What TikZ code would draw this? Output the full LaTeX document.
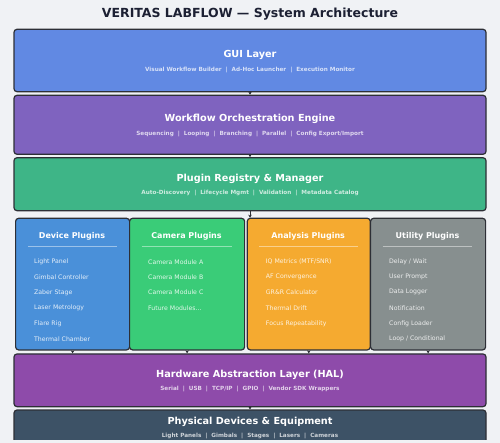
\documentclass[tikz,border=0pt]{standalone}
\usepackage{fontspec}
\setmainfont{DejaVu Sans}
\usetikzlibrary{arrows.meta}
\definecolor{bgcol}{HTML}{F0F2F5}
\definecolor{edgecol}{HTML}{2D2F36}
\definecolor{titlecol}{HTML}{1C2033}
\definecolor{guicol}{HTML}{6189E3}
\definecolor{enginecol}{HTML}{7F63BF}
\definecolor{registrycol}{HTML}{3EB587}
\definecolor{devicecol}{HTML}{4A90D9}
\definecolor{cameracol}{HTML}{3ACC78}
\definecolor{analysiscol}{HTML}{F5AA30}
\definecolor{utilitycol}{HTML}{878F8F}
\definecolor{halcol}{HTML}{8E4BAA}
\definecolor{physcol}{HTML}{3D5266}
\tikzset{
  layer/.style={draw=edgecol, line width=1.2pt, rounded corners=3pt,
               minimum width=472pt, inner sep=0pt},
  plugcol/.style={draw=edgecol, line width=1.2pt, rounded corners=3pt,
                  inner sep=0pt, anchor=north west, minimum height=131.6pt},
  layertitle/.style={text=white, font=\bfseries\fontsize{9.7}{11}\selectfont},
  layersub/.style={text=white, text opacity=0.75, font=\bfseries\fontsize{5.7}{7}\selectfont},
  coltitle/.style={text=white, font=\bfseries\fontsize{8}{9}\selectfont},
  colitem/.style={text=white, text opacity=0.85, font=\fontsize{6.2}{7}\selectfont,
                  anchor=west, inner sep=0pt},
  colrule/.style={draw=white, draw opacity=0.45, line width=0.6pt},
  flow/.style={-{Stealth[length=3pt,width=3.5pt]}, line width=0.9pt, draw=edgecol},
}
\begin{document}
\begin{tikzpicture}[x=1pt, y=-1pt]
    \path[fill=bgcol, use as bounding box] (0,0) rectangle (500,443);
    \node[text=titlecol, font=\bfseries\fontsize{12.5}{14}\selectfont] (title) at (250,14.3)
      {VERITAS LABFLOW — System Architecture};

    % layers
    \node[layer, fill=guicol, minimum height=62.4pt] (gui) at (250,60.5) {};
    \node[layertitle] (guit) at (250,55.3) {GUI Layer};
    \node[layersub] (guis) at (250,69.7)
      {Visual Workflow Builder~~|~~Ad-Hoc Launcher~~|~~Execution Monitor};

    \node[layer, fill=enginecol, minimum height=59pt] (engine) at (250,124.8) {};
    \node[layertitle] (enginet) at (250,119.3) {Workflow Orchestration Engine};
    \node[layersub] (engines) at (250,133.7)
      {Sequencing~~|~~Looping~~|~~Branching~~|~~Parallel~~|~~Config Export/Import};

    \node[layer, fill=registrycol, minimum height=53pt] (registry) at (250,184.2) {};
    \node[layertitle] (registryt) at (250,178.7) {Plugin Registry \& Manager};
    \node[layersub] (registrys) at (250,192.7)
      {Auto-Discovery~~|~~Lifecycle Mgmt~~|~~Validation~~|~~Metadata Catalog};

    % plugin columns
    \node[plugcol, fill=devicecol, minimum width=114pt] (device) at (15,217.7) {};
    \node[plugcol, fill=cameracol, minimum width=115pt] (camera) at (129,217.7) {};
    \node[plugcol, fill=analysiscol, minimum width=123pt] (analysis) at (246.7,217.7) {};
    \node[plugcol, fill=utilitycol, minimum width=115pt] (utility) at (370,217.7) {};

    \node[coltitle] (devicet) at (72,236) {Device Plugins};
    \node[coltitle] (camerat) at (186.5,236) {Camera Plugins};
    \node[coltitle] (analysist) at (308.2,236) {Analysis Plugins};
    \node[coltitle] (utilityt) at (427.5,236) {Utility Plugins};
    \draw[colrule] (28,246) -- (117,246);
    \draw[colrule] (141.7,246) -- (231.7,246);
    \draw[colrule] (259,246) -- (358.3,246);
    \draw[colrule] (382.7,246) -- (472.3,246);

    \node[colitem] (dev1) at (34,261.7) {Light Panel};
    \node[colitem] (dev2) at (34,277) {Gimbal Controller};
    \node[colitem] (dev3) at (34,292.3) {Zaber Stage};
    \node[colitem] (dev4) at (34,308) {Laser Metrology};
    \node[colitem] (dev5) at (34,323.7) {Flare Rig};
    \node[colitem] (dev6) at (34,339) {Thermal Chamber};

    \node[colitem] (cam1) at (148,261.7) {Camera Module A};
    \node[colitem] (cam2) at (148,277) {Camera Module B};
    \node[colitem] (cam3) at (148,292.3) {Camera Module C};
    \node[colitem] (cam4) at (148,308) {Future Modules...};

    \node[colitem] (ana1) at (265.7,261.7) {IQ Metrics (MTF/SNR)};
    \node[colitem] (ana2) at (265.7,277) {AF Convergence};
    \node[colitem] (ana3) at (265.7,292.3) {GR\&R Calculator};
    \node[colitem] (ana4) at (265.7,308) {Thermal Drift};
    \node[colitem] (ana5) at (265.7,323.7) {Focus Repeatability};

    \node[colitem] (util1) at (389,261.7) {Delay / Wait};
    \node[colitem] (util2) at (389,277) {User Prompt};
    \node[colitem] (util3) at (389,292.3) {Data Logger};
    \node[colitem] (util4) at (389,308) {Notification};
    \node[colitem] (util5) at (389,323.7) {Config Loader};
    \node[colitem] (util6) at (389,339) {Loop / Conditional};

    % lower layers
    \node[layer, fill=halcol, minimum height=52.7pt] (hal) at (250,380.3) {};
    \node[layertitle] (halt) at (250,375) {Hardware Abstraction Layer (HAL)};
    \node[layersub] (hals) at (250,389)
      {Serial~~|~~USB~~|~~TCP/IP~~|~~GPIO~~|~~Vendor SDK Wrappers};

    \begin{scope}
      \clip (0,0) rectangle (500,439);
      \node[layer, fill=physcol, minimum height=60pt] (phys) at (250,440) {};
    \end{scope}
    \node[layertitle] (physt) at (250,421.7) {Physical Devices \& Equipment};
    \node[layersub] (physs) at (250,436)
      {Light Panels~~|~~Gimbals~~|~~Stages~~|~~Lasers~~|~~Cameras};

    % arrows
    \draw[flow] (gui.south) -- (engine.north);
    \draw[flow] (engine.south) -- (registry.north);
    \draw[flow] (registry.south) -- (registry.south |- analysis.north);
    \draw[flow] (device.south) -- (device.south |- hal.north);
    \draw[flow] (camera.south) -- (camera.south |- hal.north);
    \draw[flow] (analysis.south) -- (analysis.south |- hal.north);
    \draw[flow] (utility.south) -- (utility.south |- hal.north);
    \draw[flow] (hal.south) -- (phys.north);
  \end{tikzpicture}
\end{document}
